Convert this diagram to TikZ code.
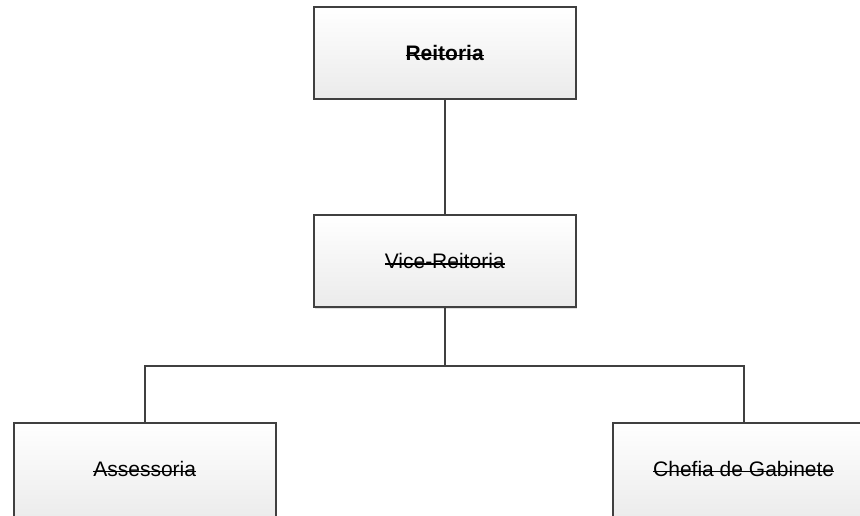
\documentclass[tikz,border=0pt]{standalone}
\usepackage{fontspec}
\setmainfont{Liberation Sans}
\usepackage{tikz}
\usetikzlibrary{shadows}
\usepackage{xcolor}

\definecolor{linha}{RGB}{64,64,64}
\newsavebox{\caixatexto}
\newcommand{\riscado}[1]{\sbox{\caixatexto}{#1}\rlap{\usebox{\caixatexto}}\rule[4.2pt]{\wd\caixatexto}{1.3pt}}

\begin{document}
\begin{tikzpicture}[x=1pt, y=-1pt, line width=2pt,
    caixa/.style={draw=linha, rectangle, inner sep=0pt,
      minimum width=262pt, minimum height=92pt,
      top color=white, bottom color=black!8,
      drop shadow={shadow xshift=1.5pt, shadow yshift=-1.5pt, fill=black!25, opacity=0.5},
      font=\fontsize{21}{25}\selectfont},
    baixo/.style={caixa, minimum height=100pt, text depth=8pt},
    liga/.style={draw=linha, line width=2pt}]
      \useasboundingbox (0,0) rectangle (860,516);

      %caixas
      \node[caixa] (reitoria) at (444.7,53) {\riscado{\textbf{Reitoria}}};
      \node[caixa] (vice) at (444.7,261.3) {\riscado{Vice-Reitoria}};
      \node[baixo] (assessoria) at (144.7,473) {\riscado{Assessoria}};
      \node[baixo] (chefia) at (743.7,473) {\riscado{Chefia de Gabinete}};

      %ligacoes
      \coordinate (barra) at (444.7,366);
      \draw[liga] (reitoria.south) -- (vice.north);
      \draw[liga] (vice.south) -- (barra);
      \draw[liga] (assessoria.north) |- (barra) -| (chefia.north);
\end{tikzpicture}
\end{document}
